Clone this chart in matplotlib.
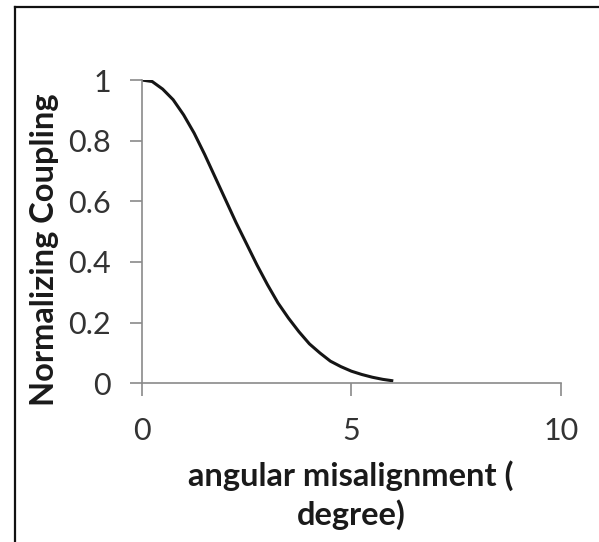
import matplotlib
matplotlib.use("Agg")
import matplotlib.pyplot as plt
from matplotlib.lines import Line2D

angle = [0, 0.25, 0.5, 0.75, 1.0, 1.25, 1.5, 1.75, 2.0, 2.25, 2.5, 2.75, 3.0,
         3.25, 3.5, 3.75, 4.0, 4.25, 4.5, 4.75, 5.0, 5.25, 5.5, 5.75, 6.0]
coupling = [1.0, 0.995, 0.97, 0.935, 0.885, 0.825, 0.755, 0.68, 0.605, 0.53,
            0.46, 0.39, 0.325, 0.265, 0.215, 0.17, 0.13, 0.1, 0.073, 0.055,
            0.04, 0.029, 0.02, 0.013, 0.008]
xticks = [0, 5, 10]
yticks = [0, 0.2, 0.4, 0.6, 0.8, 1]
ytick_labels = ["0", "0.2", "0.4", "0.6", "0.8", "1"]

plt.rcParams['font.family'] = ['Lato', 'DejaVu Sans']

W, H = 599, 542
fig = plt.figure(figsize=(W / 100, H / 100), dpi=100)
fig.patch.set_facecolor('white')

ax = fig.add_axes([141.7 / W, 1 - 383.3 / H, (561 - 141.7) / W, (383.3 - 80) / H])
ax.plot(angle, coupling, color='#151515', lw=2.2, solid_capstyle='butt')
ax.set_xlim(0, 10)
ax.set_ylim(0, 1)
ax.set_xticks(xticks)
ax.set_yticks(yticks)
ax.set_yticklabels(ytick_labels)
for s in ['top', 'right']:
    ax.spines[s].set_visible(False)
for s in ['left', 'bottom']:
    ax.spines[s].set_color('#8a8a8a')
    ax.spines[s].set_linewidth(1.2)
ax.tick_params(axis='both', direction='out', length=9, width=1.2, color='#8a8a8a',
               labelsize=22, labelcolor='#333333')
ax.tick_params(axis='y', pad=13)
ax.tick_params(axis='x', pad=15)
ax.spines['left'].set_bounds(0, 1)

fig.text(351 / W, 1 - 476 / H, "angular misalignment (", ha='center', va='center',
         fontsize=23.5, fontweight='bold', color='#1a1a1a')
fig.text(351 / W, 1 - 515 / H, "degree)", ha='center', va='center',
         fontsize=23.5, fontweight='bold', color='#1a1a1a')
fig.text(45 / W, 1 - 250 / H, "Normalizing Coupling", ha='center', va='center',
         rotation=90, fontsize=23.5, fontweight='bold', color='#1a1a1a')

# frame (left and top edges of the original cropped border)
fig.add_artist(Line2D([14.5 / W, 14.5 / W], [0, 1 - 6.5 / H], transform=fig.transFigure,
                      color='#111111', lw=1.6))
fig.add_artist(Line2D([14.5 / W, 1], [1 - 6.5 / H, 1 - 6.5 / H], transform=fig.transFigure,
                      color='#111111', lw=1.6))

fig.savefig("out.png", dpi=100)
